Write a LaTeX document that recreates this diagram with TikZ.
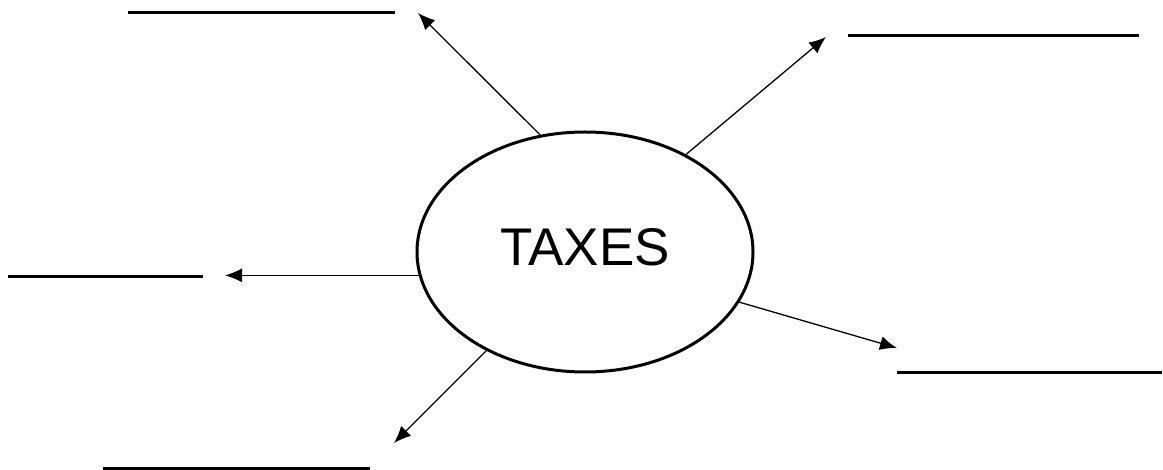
\documentclass[tikz,border=0pt]{standalone}
\usepackage{fontspec}
\setmainfont{Liberation Sans}
\usetikzlibrary{shapes.geometric,arrows.meta}
\begin{document}
\begin{tikzpicture}[x=1pt,y=-1pt,
  blank/.style={line width=3pt},
  arr/.style={line width=1.3pt,-{Latex[length=17pt,width=14pt]}},
  ell/.style={ellipse,draw,line width=3pt,minimum width=336pt,minimum height=240pt,inner sep=0pt}]
\useasboundingbox (0,0) rectangle (1163,470);
\node[ell] (t) at (585,252) {};
\node[font=\fontsize{53}{60}\selectfont,inner sep=0pt] (lbl) at ([yshift=5pt]t.center) {TAXES};
% blank answer lines
\coordinate (a1) at (128,13);  \coordinate (a2) at (395,13);
\coordinate (b1) at (848,36);  \coordinate (b2) at (1139,36);
\coordinate (c1) at (8,277);   \coordinate (c2) at (203,277);
\coordinate (d1) at (897,373); \coordinate (d2) at (1162,373);
\coordinate (e1) at (103,468); \coordinate (e2) at (370,468);
\draw[blank] (a1) -- (a2);
\draw[blank] (b1) -- (b2);
\draw[blank] (c1) -- (c2);
\draw[blank] (d1) -- (d2);
\draw[blank] (e1) -- (e2);
% arrow tips
\coordinate (ta) at (418,13);
\coordinate (tb) at (826,37);
\coordinate (tc) at (225,277);
\coordinate (td) at (897,348);
\coordinate (te) at (394,443);
\draw[arr] (t.111.4) -- (ta);
\draw[arr] (t.44.7) -- (tb);
\draw[arr] (t.188.5) -- (t.188.5 -| tc);
\draw[arr] (t.-18.3) -- (td);
\draw[arr] (t.225.6) -- (te);
\end{tikzpicture}
\end{document}
